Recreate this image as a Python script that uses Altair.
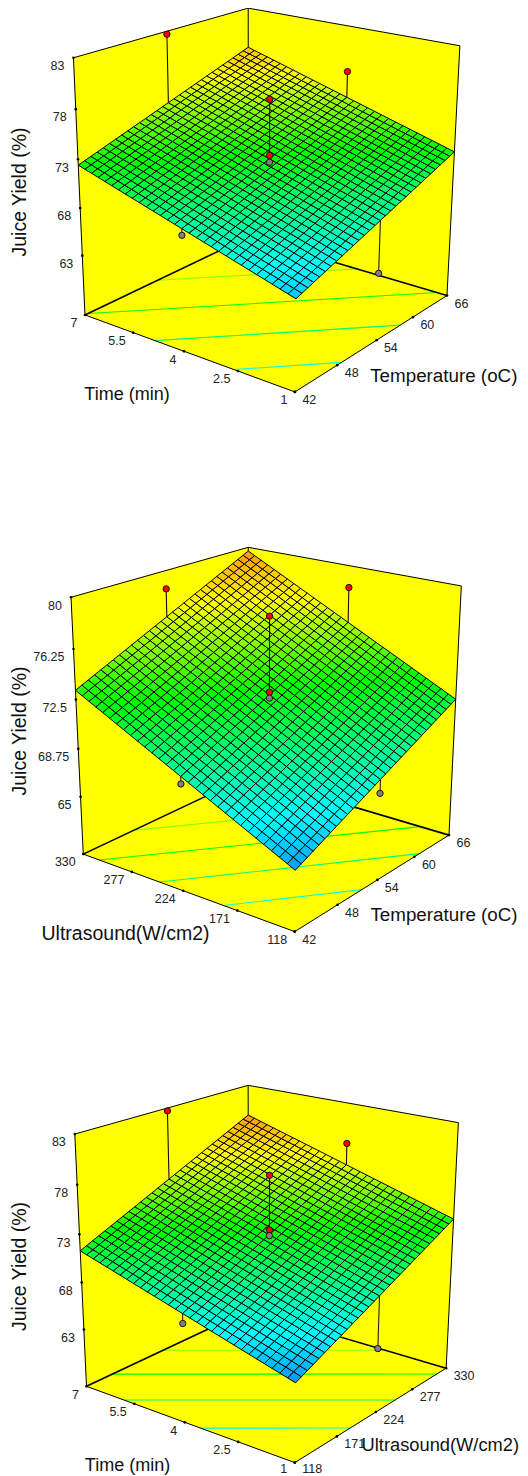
import numpy as np
import altair as alt

FONT = "Liberation Sans"
Z_TITLE = "Juice Yield (%)"
LEVELS = [67.5, 70, 72.5, 75]
COLOR_DOMAIN = [61.5, 67, 72.5, 77, 83.5]
COLOR_RANGE = ["#0000ff", "#00ffff", "#00ff00", "#ffff00", "#ff0000"]
CELLS = 30

TIME_TICKS = [7, 5.5, 4, 2.5, 1]
TEMP_TICKS = [42, 48, 54, 60, 66]
US_TICKS_DOWN = [330, 277, 224, 171, 118]
US_TICKS_UP = [118, 171, 224, 277, 330]
Z_TICKS_83 = [83, 78, 73, 68, 63]
Z_TICKS_80 = [80, 76.25, 72.5, 68.75, 65]

# surface height at the left, back, right, front corners
SURFACE_1 = [72.4, 78.7, 72.2, 65.7]
SURFACE_2 = [73.2, 79.7, 71.4, 64.9]
SURFACE_3 = [71.3, 79.7, 73.1, 64.7]

# design points: first axis, second axis, yield
POINTS_1 = [(7, 54, 82.7), (4, 66, 78.2), (4, 54, 78.3), (4, 54, 72.6), (4, 54, 71.9), (4, 42, 68.4), (1, 54, 63.6)]
POINTS_2 = [(330, 54, 78.6), (224, 66, 78.3), (224, 54, 78.2), (224, 54, 72.5), (224, 54, 72.05), (224, 42, 68.5), (118, 54, 67.1)]
POINTS_3 = [(7, 224, 82.7), (4, 330, 78.7), (4, 224, 78.3), (4, 224, 72.7), (4, 224, 72.1), (4, 118, 67.0), (1, 224, 63.5)]

# view calibration: left top, left floor, back top, back floor, right top, right floor, front floor
VIEW_1 = [(73.3, 57.7), (85.3, 314.7), (248.5, 8), (248, 237.3), (459.7, 46), (447.3, 295), (294.7, 392.3)]
VIEW_2 = [(71, 597.3), (83.3, 854), (248.3, 547.3), (249, 776), (461.3, 586), (449, 835), (294.7, 931.7)]
VIEW_3 = [(74.7, 1134), (86.7, 1386.3), (248.3, 1085.3), (248.5, 1310), (458.3, 1122.7), (446.3, 1368), (294.7, 1462.7)]
UNIT = [(0, 0, 1), (0, 0, 0), (0, 1, 1), (0, 1, 0), (1, 1, 1), (1, 1, 0), (1, 0, 0)]

PANELS = [
    dict(view=VIEW_1, a=TIME_TICKS, b=TEMP_TICKS, z=Z_TICKS_83, floor=56.6, surf=SURFACE_1, pts=POINTS_1,
         ztitle=(19.5, 192), atitle=("Time (min)", 127, 395, 18), btitle=("Temperature (oC)", 443.8, 376, 18.8)),
    dict(view=VIEW_2, a=US_TICKS_DOWN, b=TEMP_TICKS, z=Z_TICKS_80, floor=60.4, surf=SURFACE_2, pts=POINTS_2,
         ztitle=(19.5, 731), atitle=("Ultrasound(W/cm2)", 125.5, 934, 19.5), btitle=("Temperature (oC)", 444, 915, 18.8)),
    dict(view=VIEW_3, a=TIME_TICKS, b=US_TICKS_UP, z=Z_TICKS_83, floor=56.8, surf=SURFACE_3, pts=POINTS_3,
         ztitle=(20, 1266.5), atitle=("Time (min)", 127.5, 1465.7, 18), btitle=("Ultrasound(W/cm2)", 440.3, 1445.7, 18.3)),
]

LABEL_Y_LIMIT = 1460.5


def fit_view(view):
    rows, rhs = [], []
    for (u, v, w), (x, y) in zip(UNIT, view):
        rows.append([u, v, w, 1, 0, 0, 0, 0, -x * u, -x * v, -x * w])
        rhs.append(x)
        rows.append([0, 0, 0, 0, u, v, w, 1, -y * u, -y * v, -y * w])
        rhs.append(y)
    s = np.linalg.lstsq(np.array(rows, float), np.array(rhs, float), rcond=None)[0]
    return np.append(s, 1.0).reshape(3, 4)


def lerp(c, a, b):
    return (1 - a) * (1 - b) * c[0] + (1 - a) * b * c[1] + a * b * c[2] + a * (1 - b) * c[3]


walls, cells = [], []
lines_thin, lines_thick, contours = [], [], []
stems_back, stems_front = [], []
dots_back, dots_front = [], []
ticks, labels_r, labels_l, titles, ztitles = [], [], [], [], []


def poly(pts, **props):
    ring = [list(map(float, p)) for p in pts] + [list(map(float, pts[0]))]
    return {"type": "Feature", "properties": props, "geometry": {"type": "Polygon", "coordinates": [ring]}}


for p in PANELS:
    M = fit_view(p["view"])
    atop = p["z"][0]
    flo = p["floor"]

    def proj(a, b, w):
        h = M @ np.array([a, b, w, 1.0])
        return float(h[0] / h[2]), float(h[1] / h[2])

    def wz(z):
        return (z - flo) / (atop - flo)

    A = p["a"]
    B = p["b"]
    fa = lambda v: (v - A[0]) / (A[-1] - A[0])
    fb = lambda v: (v - B[0]) / (B[-1] - B[0])
    S = p["surf"]

    def seg(store, p0, p1, **extra):
        x, y = proj(*p0)
        x2, y2 = proj(*p1)
        store.append(dict(x=x, y=y, x2=x2, y2=y2, **extra))

    walls.append(poly([proj(0, 0, 0), proj(0, 0, 1), proj(0, 1, 1), proj(0, 1, 0)]))
    walls.append(poly([proj(0, 1, 0), proj(0, 1, 1), proj(1, 1, 1), proj(1, 1, 0)]))
    walls.append(poly([proj(0, 0, 0), proj(0, 1, 0), proj(1, 1, 0), proj(1, 0, 0)]))

    for a0, b0, w0, a1, b1, w1 in [(0, 0, 0, 0, 0, 1), (0, 1, 0, 0, 1, 1), (1, 1, 0, 1, 1, 1), (0, 0, 1, 0, 1, 1),
                                   (0, 1, 1, 1, 1, 1), (0, 0, 0, 1, 0, 0), (1, 0, 0, 1, 1, 0)]:
        seg(lines_thin, (a0, b0, w0), (a1, b1, w1))
    seg(lines_thick, (0, 0, 0), (0, 1, 0))
    seg(lines_thick, (0, 1, 0), (1, 1, 0))

    for lev in LEVELS:
        hits = []
        corners = [(0, 0, S[0]), (0, 1, S[1]), (1, 1, S[2]), (1, 0, S[3])]
        for i in range(4):
            a0, b0, z0 = corners[i]
            a1, b1, z1 = corners[(i + 1) % 4]
            if (z0 - lev) * (z1 - lev) < 0:
                f = (lev - z0) / (z1 - z0)
                hits.append((a0 + f * (a1 - a0), b0 + f * (b1 - b0), 0))
        if len(hits) >= 2:
            seg(contours, hits[0], hits[1], z=lev)

    for i in range(CELLS):
        for j in range(CELLS):
            a0, a1 = i / CELLS, (i + 1) / CELLS
            b0, b1 = j / CELLS, (j + 1) / CELLS
            q = [proj(a, b, wz(lerp(S, a, b))) for a, b in [(a0, b0), (a0, b1), (a1, b1), (a1, b0)]]
            cells.append(poly(q, z=float(lerp(S, (a0 + a1) / 2, (b0 + b1) / 2))))

    for n, (va, vb, z) in enumerate(p["pts"]):
        a, b = fa(va), fb(vb)
        zs = lerp(S, a, b)
        x, y = proj(a, b, wz(z))
        above = z > zs
        centre_low = n == 4
        seg(stems_front if (above or centre_low) else stems_back, (a, b, wz(z)), (a, b, wz(zs)))
        (dots_front if (above or centre_low) else dots_back).append(dict(x=x, y=y, kind="above" if above else "below"))

    for v in A:
        x, y = proj(fa(v), 0, 0)
        ticks.append(dict(x=x, y=y))
        labels_r.append(dict(x=x, y=min(y, LABEL_Y_LIMIT), t=f"{v:g}", d=-7.5))
    for v in B:
        x, y = proj(1, fb(v), 0)
        ticks.append(dict(x=x, y=y))
        labels_l.append(dict(x=x, y=min(y, LABEL_Y_LIMIT), t=f"{v:g}"))
    for v in p["z"]:
        x, y = proj(0, 0, wz(v))
        ticks.append(dict(x=x, y=y))
        labels_r.append(dict(x=x, y=y, t=f"{v:g}", d=-9))

    ztitles.append(dict(x=p["ztitle"][0], y=p["ztitle"][1], t=Z_TITLE))
    for t, x, y, s in (p["atitle"], p["btitle"]):
        titles.append(dict(x=x, y=y, t=t, s=s))

X = alt.X("x:Q", scale=alt.Scale(domain=[8, 520], range=[0, 512]), axis=None)
Y = alt.Y("y:Q", scale=alt.Scale(domain=[8, 1476], range=[0, 1468]), axis=None)
COLOR = alt.Scale(domain=COLOR_DOMAIN, range=COLOR_RANGE, clamp=True, interpolate="rgb")


def rules(rows, width, color="#000000"):
    return alt.Chart(alt.Data(values=rows)).mark_rule(strokeWidth=width, color=color).encode(
        x=X, y=Y, x2="x2:Q", y2="y2:Q")


def geo(rows, **mark):
    return alt.Chart(alt.Data(values=rows)).mark_geoshape(**mark).project(
        type="identity", scale=1, translate=[-8, -8])


def dots(rows):
    return alt.Chart(alt.Data(values=rows)).mark_circle(
        size=40, opacity=1, stroke="#201010", strokeWidth=1).encode(
        x=X, y=Y,
        fill=alt.Fill("kind:N", scale=alt.Scale(domain=["above", "below"], range=["#ff0000", "#808080"]), legend=None))


wall_layer = geo(walls, fill="#ffff00", stroke="#ffff00", strokeWidth=0.5, opacity=1)
contour_layer = alt.Chart(alt.Data(values=contours)).mark_rule(strokeWidth=1.1).encode(
    x=X, y=Y, x2="x2:Q", y2="y2:Q", color=alt.Color("z:Q", scale=COLOR, legend=None))
surface_layer = geo(cells, stroke="#000000", strokeWidth=1, opacity=1, fillOpacity=1).encode(
    color=alt.Color("properties.z:Q", scale=COLOR, legend=None))
tick_layer = alt.Chart(alt.Data(values=ticks)).mark_circle(size=7, color="#000000", opacity=1).encode(x=X, y=Y)
label_right = alt.Chart(alt.Data(values=[r for r in labels_r if r["d"] == -9])).mark_text(
    font=FONT, fontSize=12.5, align="right", baseline="middle", dx=-9, dy=8.3, color="#222222").encode(x=X, y=Y, text="t:N")
label_axis_a = alt.Chart(alt.Data(values=[r for r in labels_r if r["d"] != -9])).mark_text(
    font=FONT, fontSize=12.5, align="right", baseline="middle", dx=-7.5, dy=8.3, color="#222222").encode(x=X, y=Y, text="t:N")
label_left = alt.Chart(alt.Data(values=labels_l)).mark_text(
    font=FONT, fontSize=12.5, align="left", baseline="middle", dx=7.5, dy=8, color="#222222").encode(x=X, y=Y, text="t:N")
title_layer = alt.Chart(alt.Data(values=titles)).mark_text(
    font=FONT, align="center", baseline="middle", color="#111111").encode(
    x=X, y=Y, text="t:N", size=alt.Size("s:Q", scale=None))
ztitle_layer = alt.Chart(alt.Data(values=ztitles)).mark_text(
    font=FONT, fontSize=19.5, angle=270, align="center", baseline="middle", color="#111111").encode(x=X, y=Y, text="t:N")

chart = alt.layer(
    wall_layer, contour_layer, rules(lines_thin, 1), rules(lines_thick, 1.6),
    rules(stems_back, 1.1, "#202020"), dots(dots_back),
    surface_layer,
    rules(stems_front, 1.1, "#101010"), dots(dots_front),
    tick_layer, label_right, label_axis_a, label_left, title_layer, ztitle_layer,
).resolve_scale(color="shared").properties(
    width=512, height=1468, padding=0, autosize=alt.AutoSizeParams(type="none")
).configure_view(stroke=None)

chart.save("out.html", embed_options={"renderer": "svg", "actions": False})
